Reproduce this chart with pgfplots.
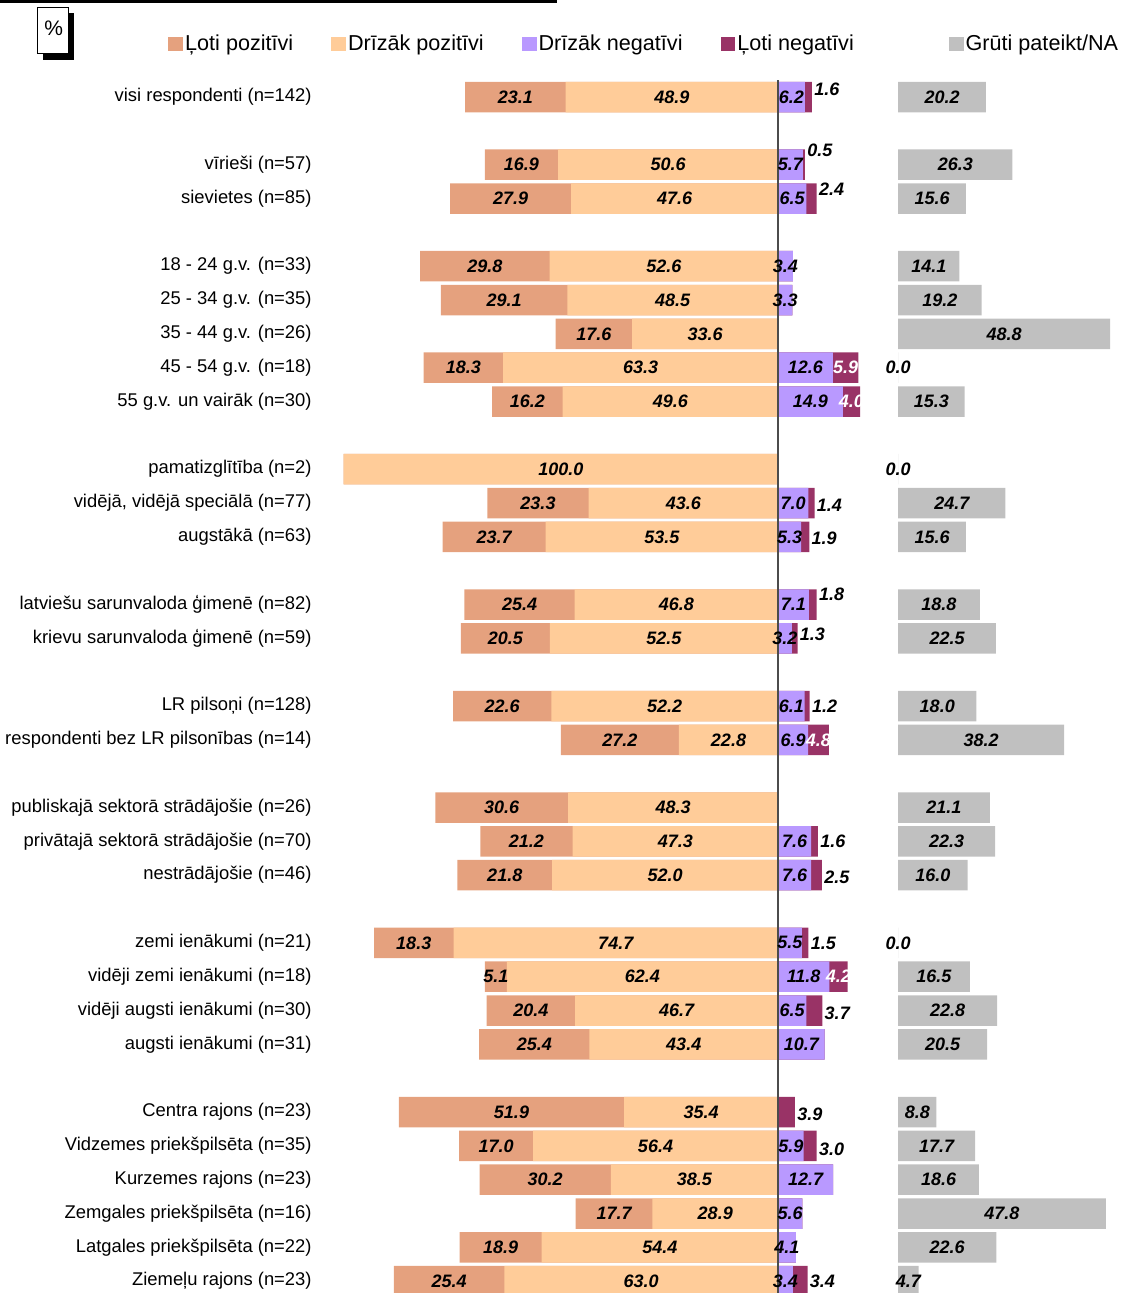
\documentclass[border=0pt]{standalone}
\usepackage{pgfplots}
\pgfplotsset{compat=1.18}
\usepackage{pgfplotstable}
\usepackage{fontspec}
\setmainfont{Liberation Sans}
\definecolor{clp}{HTML}{E5A17E}
\definecolor{cdp}{HTML}{FFCC99}
\definecolor{cdn}{HTML}{B999FF}
\definecolor{cln}{HTML}{993366}
\definecolor{cgr}{HTML}{C0C0C0}
\pgfplotstableread{
pos lp dp dn ln na lndy
0 23.1 48.9 6.2 1.6 20.2 4
2 16.9 50.6 5.7 0.5 26.3 7
3 27.9 47.6 6.5 2.4 15.6 4.5
5 29.8 52.6 3.4 0.0 14.1 0
6 29.1 48.5 3.3 0.0 19.2 0
7 17.6 33.6 0.0 0.0 48.8 0
8 18.3 63.3 12.6 5.9 0.0 0
9 16.2 49.6 14.9 4.0 15.3 0
11 0.0 100.0 0.0 0.0 0.0 0
12 23.3 43.6 7.0 1.4 24.7 -1
13 23.7 53.5 5.3 1.9 15.6 -0.5
15 25.4 46.8 7.1 1.8 18.8 5
16 20.5 52.5 3.2 1.3 22.5 2
18 22.6 52.2 6.1 1.2 18.0 0
19 27.2 22.8 6.9 4.8 38.2 0
21 30.6 48.3 0.0 0.0 21.1 0
22 21.2 47.3 7.6 1.6 22.3 0
23 21.8 52.0 7.6 2.5 16.0 -1
25 18.3 74.7 5.5 1.5 0.0 -0.5
26 5.1 62.4 11.8 4.2 16.5 0
27 20.4 46.7 6.5 3.7 22.8 -1.5
28 25.4 43.4 10.7 0.0 20.5 0
30 51.9 35.4 0.0 3.9 8.8 -1
31 17.0 56.4 5.9 3.0 17.7 -1.5
32 30.2 38.5 12.7 0.0 18.6 0
33 17.7 28.9 5.6 0.0 47.8 0
34 18.9 54.4 4.1 0.0 22.6 0
35 25.4 63.0 3.4 3.4 4.7 0
}\data
\newcommand\lblfont{\fontsize{9}{10}\selectfont\bfseries\itshape}
\pgfplotsset{
  mybar/.style={xbar, bar width=15.25pt, bar shift=0pt, draw=none, forget plot},
  lbl/.style={draw=none, forget plot, point meta=explicit symbolic,
    every node near coord/.append style={anchor=center, font=\lblfont, inner sep=0.5pt}},
}
\begin{document}
\begin{tikzpicture}
\fill[black] (-170.7pt,31.6pt) rectangle (107.8pt,30pt);
\fill (-149.2pt,25.1pt) rectangle (-133.7pt,1.6pt);
\filldraw[fill=white, draw=black, line width=0.5pt] (-151.7pt,27.6pt) rectangle (-136.7pt,4.6pt);
\node[font=\fontsize{10.5}{12}\selectfont, inner sep=0pt] at (-143.9pt,17.6pt) {\%};
\begin{axis}[name=main, at={(0,0)}, anchor=north west,
  x=2.172pt, y=16.915pt, y dir=reverse,
  xmin=-100.5, xmax=27.65, ymin=-1, ymax=35.35,
  axis line style={draw=none}, major tick length=0pt,
  xtick=\empty,
  ytick={0,2,3,5,6,7,8,9,11,12,13,15,16,18,19,21,22,23,25,26,27,28,30,31,32,33,34,35},
  yticklabels={{visi respondenti (n=142)},{vīrieši (n=57)},{sievietes (n=85)},
    {18 - 24 g.v. (n=33)},{25 - 34 g.v. (n=35)},{35 - 44 g.v. (n=26)},{45 - 54 g.v. (n=18)},{55 g.v. un vairāk (n=30)},
    {pamatizglītība (n=2)},{vidējā, vidējā speciālā (n=77)},{augstākā (n=63)},
    {latviešu sarunvaloda ģimenē (n=82)},{krievu sarunvaloda ģimenē (n=59)},
    {LR pilsoņi (n=128)},{respondenti bez LR pilsonības (n=14)},
    {publiskajā sektorā strādājošie (n=26)},{privātajā sektorā strādājošie (n=70)},{nestrādājošie (n=46)},
    {zemi ienākumi (n=21)},{vidēji zemi ienākumi (n=18)},{vidēji augsti ienākumi (n=30)},{augsti ienākumi (n=31)},
    {Centra rajons (n=23)},{Vidzemes priekšpilsēta (n=35)},{Kurzemes rajons (n=23)},{Zemgales priekšpilsēta (n=16)},{Latgales priekšpilsēta (n=22)},{Ziemeļu rajons (n=23)}},
  yticklabel style={font=\fontsize{9.2}{11}\selectfont, anchor=east, inner sep=0pt, xshift=-14.7pt},
  legend image code/.code={\fill[#1] (0pt,-3.7pt) rectangle (7.4pt,3.7pt);},
  legend columns=-1,
  legend style={at={(axis description cs:-0.3115,1.0156)}, anchor=west, draw=none, fill=none,
    inner sep=0pt, font=\fontsize{10.8}{12}\selectfont,
    nodes={inner sep=1pt},
    /tikz/every even column/.append style={column sep=18pt}},
]
\addlegendimage{fill=clp,draw=none}\addlegendentry{Ļoti pozitīvi}
\addlegendimage{fill=cdp,draw=none}\addlegendentry{Drīzāk pozitīvi}
\addlegendimage{fill=cdn,draw=none}\addlegendentry{Drīzāk negatīvi}
\addlegendimage{fill=cln,draw=none}\addlegendentry{Ļoti negatīvi\rule{28.5pt}{0pt}}
\addlegendimage{fill=cgr,draw=none}\addlegendentry{Grūti pateikt/NA}
\addplot[mybar, fill=clp] table[x expr={-\thisrow{lp}-\thisrow{dp}}, y=pos] {\data};
\addplot[mybar, fill=cdp] table[x expr={-\thisrow{dp}}, y=pos] {\data};
\addplot[mybar, fill=cln] table[x expr={\thisrow{dn}+\thisrow{ln}}, y=pos] {\data};
\addplot[mybar, fill=cdn] table[x=dn, y=pos] {\data};
\addplot[color=black!70, line width=0.7pt, forget plot] coordinates {(0,-0.5) (0,35.35)};
% labels
\addplot[lbl, nodes near coords={\ifdim\pgfplotspointmeta pt>0pt\relax\pgfplotspointmeta\fi}]
  table[x expr={-\thisrow{dp}-0.5*\thisrow{lp}}, y=pos, meta=lp] {\data};
\addplot[lbl, nodes near coords={\ifdim\pgfplotspointmeta pt>0pt\relax\pgfplotspointmeta\fi}]
  table[x expr={-0.5*\thisrow{dp}}, y=pos, meta=dp] {\data};
\addplot[lbl, nodes near coords={\ifdim\pgfplotspointmeta pt>0pt\relax\pgfplotspointmeta\fi}]
  table[x expr={0.5*\thisrow{dn}}, y=pos, meta=dn] {\data};
\addplot[lbl, nodes near coords={\ifdim\pgfplotspointmeta pt>3.95pt\relax\textcolor{white}{\pgfplotspointmeta}\fi}]
  table[x expr={\thisrow{dn}+0.5*\thisrow{ln}}, y=pos, meta=ln] {\data};
\addplot[lbl, every node near coord/.append style={anchor=west, xshift=0.5pt},
  nodes near coords={\ifdim\pgfplotspointmeta pt>0pt\relax\ifdim\pgfplotspointmeta pt<3.95pt\relax\pgfplotspointmeta\fi\fi}]
  table[x expr={\thisrow{dn}+\thisrow{ln}}, y expr={\thisrow{pos}-\thisrow{lndy}/16.915}, meta=ln] {\data};
\end{axis}
\begin{axis}[name=grey, at={(main.north east)}, anchor=north west,
  x=2.172pt, y=16.915pt, y dir=reverse,
  xmin=0, xmax=51.3, ymin=-1, ymax=35.35,
  axis line style={draw=none}, major tick length=0pt, xtick=\empty, ytick=\empty]
\addplot[mybar, fill=cgr] table[x=na, y=pos] {\data};
\addplot[lbl, nodes near coords] table[x expr={0.5*\thisrow{na}}, y=pos, meta=na] {\data};
\end{axis}
\end{tikzpicture}
\end{document}
